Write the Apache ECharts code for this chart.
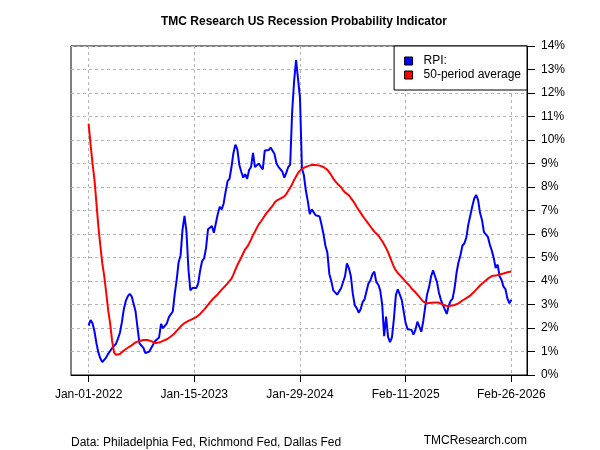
<!DOCTYPE html>
<html>
<head>
<meta charset="utf-8">
<title>TMC Research US Recession Probability Indicator</title>
<script src="https://cdn.jsdelivr.net/npm/echarts/dist/echarts.min.js"></script>
<style>
  html, body { margin: 0; padding: 0; background: #fff; }
  #chart { width: 600px; height: 450px; }
</style>
</head>
<body>
<div id="chart"></div>
<script>
// weekly readings, Jan-01-2022 .. Feb-26-2026 (percent)
const rpi = [
  2.1, 2.34, 2.2, 1.85, 1.35, 0.95, 0.7, 0.55, 0.6, 0.75,
  0.9, 1.02, 1.14, 1.24, 1.33, 1.55, 1.8, 2.25, 2.8, 3.15,
  3.35, 3.45, 3.35, 3.33, 2.7, 2.0, 1.35, 1.25, 1.15, 0.93,
  0.95, 1.0, 1.15, 1.3, 1.45, 1.5, 1.6, 2.17, 1.99, 1.92,
  2.2, 2.46, 2.41, 2.7, 3.45, 4.05, 4.8, 5.1, 6.2, 6.77,
  6.1, 4.5, 3.6, 3.7, 3.75, 3.7, 3.9, 4.45, 4.85, 4.96,
  5.4, 6.2, 6.28, 6.34, 6.05, 6.0, 6.85, 7.16, 7.05, 7.3,
  7.8, 8.25, 8.35, 8.85, 9.45, 9.8, 9.6, 8.95, 8.65, 8.4,
  8.55, 8.35, 8.72, 8.85, 9.45, 8.85, 8.92, 9.0, 8.86, 8.75,
  9.55, 9.6, 9.57, 9.68, 9.68, 9.4, 9.0, 8.86, 8.86, 8.65,
  8.4, 8.6, 8.85, 8.95, 11.2, 12.5, 13.4, 13.48, 11.8, 8.8,
  8.5, 7.85, 7.4, 6.85, 7.05, 7.0, 6.8, 6.77, 6.75, 6.4,
  6.0, 5.5, 5.2, 4.3, 4.0, 3.6, 3.58, 3.42, 3.56, 3.69,
  3.75, 4.2, 4.75, 4.55, 4.2, 3.45, 2.96, 2.85, 2.65, 2.8,
  3.1, 3.22, 3.3, 3.9, 4.03, 4.28, 4.4, 3.95, 3.85, 3.6,
  3.0, 1.65, 2.48, 1.62, 1.4, 1.6, 2.4, 3.4, 3.65, 3.6,
  3.2, 2.7, 2.2, 1.95, 1.94, 1.92, 1.72, 1.92, 2.27, 2.2,
  1.84, 2.3, 2.9, 3.45, 3.75, 4.2, 4.45, 4.2, 3.95, 3.5,
  3.2, 2.98, 2.9, 2.6, 2.95, 3.15, 3.25, 3.7, 4.35, 4.8,
  5.1, 5.5, 5.6, 5.85, 6.4, 6.78, 7.16, 7.5, 7.66, 7.45,
  6.9, 6.6, 6.08, 6.05, 5.88, 5.55, 5.3, 4.98, 4.55, 4.7,
  4.2, 4.04, 3.76, 3.65, 3.25, 3.05, 3.2
];

const avg50 = [
  10.7, 9.8, 9.0, 8.3, 7.3, 6.3, 5.5, 4.75, 4.2, 3.5,
  2.75, 2.2, 1.45, 0.95, 0.86, 0.87, 0.89, 0.92, 1.04, 1.1,
  1.16, 1.21, 1.26, 1.34, 1.39, 1.43, 1.45, 1.47, 1.49, 1.49,
  1.49, 1.48, 1.44, 1.39, 1.36, 1.35, 1.38, 1.43, 1.45, 1.48,
  1.52, 1.58, 1.64, 1.7, 1.78, 1.88, 1.97, 2.06, 2.14, 2.21,
  2.26, 2.3, 2.34, 2.38, 2.41, 2.46, 2.53, 2.6, 2.68, 2.78,
  2.88, 2.98, 3.09, 3.19, 3.28, 3.36, 3.44, 3.54, 3.63, 3.72,
  3.8, 3.9, 3.98, 4.1, 4.28, 4.48, 4.68, 4.84, 5.0, 5.18,
  5.35, 5.45, 5.6, 5.76, 5.96, 6.1, 6.27, 6.42, 6.53, 6.65,
  6.78, 6.9, 7.0, 7.08, 7.2, 7.33, 7.42, 7.47, 7.51, 7.55,
  7.6, 7.7, 7.84, 7.97, 8.12, 8.3, 8.45, 8.6, 8.7, 8.77,
  8.82, 8.86, 8.89, 8.92, 8.94, 8.94, 8.94, 8.94, 8.91, 8.88,
  8.85, 8.8, 8.73, 8.62, 8.5, 8.36, 8.25, 8.15, 8.07, 7.99,
  7.87, 7.77, 7.72, 7.65, 7.53, 7.42, 7.3, 7.15, 7.02, 6.9,
  6.77, 6.66, 6.55, 6.43, 6.32, 6.21, 6.1, 6.02, 5.94, 5.82,
  5.7, 5.55, 5.4, 5.23, 5.02, 4.8, 4.6, 4.45, 4.34, 4.25,
  4.16, 4.07, 3.97, 3.9, 3.8, 3.68, 3.6, 3.52, 3.42, 3.32,
  3.22, 3.12, 3.05, 3.05, 3.06, 3.07, 3.08, 3.09, 3.11, 3.08,
  3.03, 2.99, 2.94, 2.94, 2.94, 2.95, 2.96, 2.98, 3.01, 3.05,
  3.1, 3.17, 3.22, 3.27, 3.31, 3.38, 3.46, 3.54, 3.63, 3.72,
  3.81, 3.89, 3.96, 4.03, 4.1, 4.16, 4.21, 4.22, 4.23, 4.25,
  4.28, 4.3, 4.32, 4.35, 4.37, 4.39, 4.4
];

// x tick labels and the observation they sit on
const tickLabels = ['Jan-01-2022', 'Jan-15-2023', 'Jan-29-2024', 'Feb-11-2025', 'Feb-26-2026'];
const tickIdx = [0, 54, 108, 162, 216];

// empty slots either side so the series doesn't touch the frame
const PAD_L = 9;
const PAD_R = 8;
const total = PAD_L + rpi.length + PAD_R;

const categories = [];
for (let i = 0; i < total; i++) categories.push(String(i - PAD_L));

const pad = arr => Array(PAD_L).fill(null).concat(arr, Array(PAD_R).fill(null));

const isTick = index => tickIdx.indexOf(index - PAD_L) !== -1;
const labelFor = index => tickLabels[tickIdx.indexOf(index - PAD_L)] || '';

const FONT = 'Liberation Sans, Arial, sans-serif';
const gridLine = { show: true, lineStyle: { color: '#b4b4b4', type: [3, 3], width: 1 } };

const chart = echarts.init(document.getElementById('chart'), null, { renderer: 'canvas' });

const option = {
  animation: false,
  backgroundColor: '#fff',
  textStyle: { fontFamily: FONT },
  title: [
    {
      text: 'TMC Research US Recession Probability Indicator',
      left: 299, top: 11, textAlign: 'center',
      textStyle: { fontSize: 12, fontWeight: 'bold', color: '#000', fontFamily: FONT }
    },
    {
      text: 'Data: Philadelphia Fed, Richmond Fed, Dallas Fed',
      left: 66, top: 432,
      textStyle: { fontSize: 12, fontWeight: 'normal', color: '#000', fontFamily: FONT }
    },
    {
      text: 'TMCResearch.com',
      right: 68, top: 430,
      textStyle: { fontSize: 12, fontWeight: 'normal', color: '#000', fontFamily: FONT }
    }
  ],
  legend: {
    right: 73, top: 46,
    orient: 'vertical',
    icon: 'rect',
    itemWidth: 8, itemHeight: 8, itemGap: 0,
    padding: [8, 6, 8, 10],
    backgroundColor: '#fff',
    borderColor: '#000', borderWidth: 1, borderRadius: 0,
    itemStyle: { borderColor: '#000', borderWidth: 1 },
    textStyle: { fontSize: 12, color: '#000', fontFamily: FONT, lineHeight: 14, padding: [0, 0, 0, 6] },
    data: ['RPI:', '50-period average']
  },
  grid: {
    left: 71, right: 73, top: 46, bottom: 75,
    show: true, borderColor: '#000', borderWidth: 1
  },
  xAxis: {
    type: 'category',
    data: categories,
    boundaryGap: false,
    axisLine: { show: true, lineStyle: { color: '#000', width: 1 } },
    axisTick: { show: true, interval: isTick, length: 7, lineStyle: { color: '#000' } },
    axisLabel: {
      interval: isTick,
      formatter: (val, index) => labelFor(index),
      margin: 14, fontSize: 12, color: '#000', fontFamily: FONT
    },
    splitLine: Object.assign({ interval: isTick }, gridLine)
  },
  yAxis: {
    type: 'value',
    position: 'right',
    min: 0, max: 14, interval: 1,
    axisLine: { show: true, lineStyle: { color: '#000', width: 1 } },
    axisTick: { show: true, length: 8, lineStyle: { color: '#000' } },
    axisLabel: { formatter: '{value}%', margin: 14, fontSize: 12, color: '#000', fontFamily: FONT },
    splitLine: gridLine
  },
  series: [
    {
      name: 'RPI:',
      type: 'line',
      data: pad(rpi),
      showSymbol: false,
      color: '#0000ff',
      lineStyle: { color: '#0000ff', width: 2 }
    },
    {
      name: '50-period average',
      type: 'line',
      data: pad(avg50),
      showSymbol: false,
      color: '#ff0000',
      lineStyle: { color: '#ff0000', width: 2 }
    }
  ]
};

chart.setOption(option);
</script>
</body>
</html>
